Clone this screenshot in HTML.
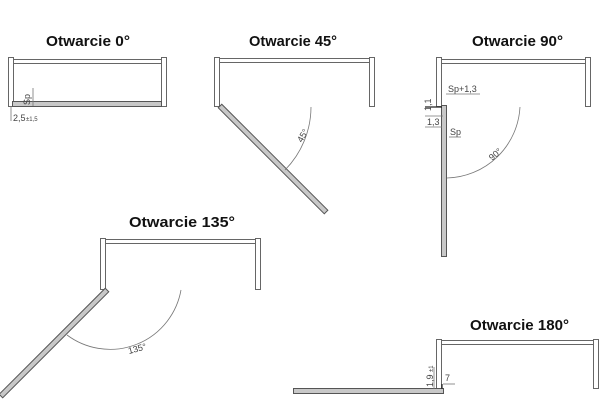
<!DOCTYPE html>
<html><head><style>html,body{margin:0;padding:0;background:#fff}svg{display:block}</style></head>
<body>
<svg width="600" height="403" viewBox="0 0 600 403" xmlns="http://www.w3.org/2000/svg" font-family="Liberation Sans, sans-serif">
<g font-weight="bold" font-size="15" fill="#111">
<text x="46" y="46" textLength="84" lengthAdjust="spacingAndGlyphs">Otwarcie 0°</text>
<text x="249" y="46" textLength="88" lengthAdjust="spacingAndGlyphs">Otwarcie 45°</text>
<text x="472" y="46" textLength="91" lengthAdjust="spacingAndGlyphs">Otwarcie 90°</text>
<text x="129" y="227" textLength="106" lengthAdjust="spacingAndGlyphs">Otwarcie 135°</text>
<text x="470" y="330" textLength="99" lengthAdjust="spacingAndGlyphs">Otwarcie 180°</text>
</g>
<g fill="#fff" stroke="#666" stroke-width="1">
<!-- 0 -->
<rect x="8.5" y="57.5" width="5" height="49"/><rect x="13.5" y="59.5" width="148" height="4"/><rect x="161.5" y="57.5" width="5" height="49"/>
<!-- 45 -->
<rect x="214.5" y="57.5" width="5" height="49"/><rect x="219.5" y="58.5" width="150" height="4"/><rect x="369.5" y="57.5" width="5" height="49"/>
<!-- 90 -->
<rect x="436.5" y="57.5" width="5" height="49"/><rect x="441.5" y="59.5" width="144" height="4"/><rect x="585.5" y="57.5" width="5" height="49"/>
<!-- 135 -->
<rect x="100.5" y="238.5" width="5" height="51"/><rect x="105.5" y="239.5" width="150" height="4"/><rect x="255.5" y="238.5" width="5" height="51"/>
<!-- 180 -->
<rect x="436.5" y="339.5" width="5" height="50"/><rect x="441.5" y="340.5" width="152" height="4"/><rect x="593.5" y="339.5" width="5" height="49"/>
</g>
<g fill="#c8c8c8" stroke="#555" stroke-width="1">
<rect x="12.5" y="101.5" width="149" height="5"/>
<rect x="0" y="-2.5" width="150" height="5" transform="translate(220,106) rotate(45)"/>
<rect x="441.5" y="105.5" width="5" height="151"/>
<rect x="0" y="-2.5" width="150" height="5" transform="translate(107,290) rotate(135)"/>
<rect x="293.5" y="388.5" width="150" height="5"/>
</g>
<g fill="none" stroke="#777" stroke-width="0.8">
<path d="M311,107 A90,90 0 0 1 285,170"/>
<path d="M520,107 A75,75 0 0 1 447,178"/>
<path d="M181,290 A72,72 0 0 1 67,335"/>
<!-- dims -->
<line x1="33" y1="88" x2="33" y2="106"/>
<line x1="11" y1="106" x2="11" y2="121"/>
<line x1="446" y1="94" x2="480" y2="94"/>
<line x1="425" y1="116" x2="443" y2="116"/>
<line x1="425" y1="127" x2="442" y2="127"/>
<line x1="449" y1="137" x2="461" y2="137"/>
<line x1="434" y1="367" x2="434" y2="389"/>
<line x1="443" y1="384" x2="455" y2="384"/>
</g>
<g stroke="#222" stroke-width="1.2"><line x1="425" y1="107" x2="442" y2="107"/><line x1="442" y1="384" x2="442" y2="389"/></g>
<g fill="#444" font-size="9">
<text x="0" y="0" transform="translate(30,105) rotate(-90)">Sp</text>
<text x="13" y="121">2,5</text><text x="26" y="121" font-size="6">±1,5</text>
<text x="448" y="92" font-size="9">Sp+1,3</text>
<text x="0" y="0" transform="translate(431,111) rotate(-90)">1,1</text>
<text x="427" y="125">1,3</text>
<text x="450" y="135">Sp</text>
<text x="0" y="0" transform="translate(302,143) rotate(-60)">45°</text>
<text x="0" y="0" transform="translate(492,161) rotate(-40)">90°</text>
<text x="0" y="0" transform="translate(129,354) rotate(-15)">135°</text>
<text x="0" y="0" transform="translate(433,387) rotate(-90)">1,9</text>
<text x="0" y="0" font-size="6" transform="translate(433,372) rotate(-90)">±1</text>
<text x="445" y="381">7</text>
</g>
</svg>
</body></html>
